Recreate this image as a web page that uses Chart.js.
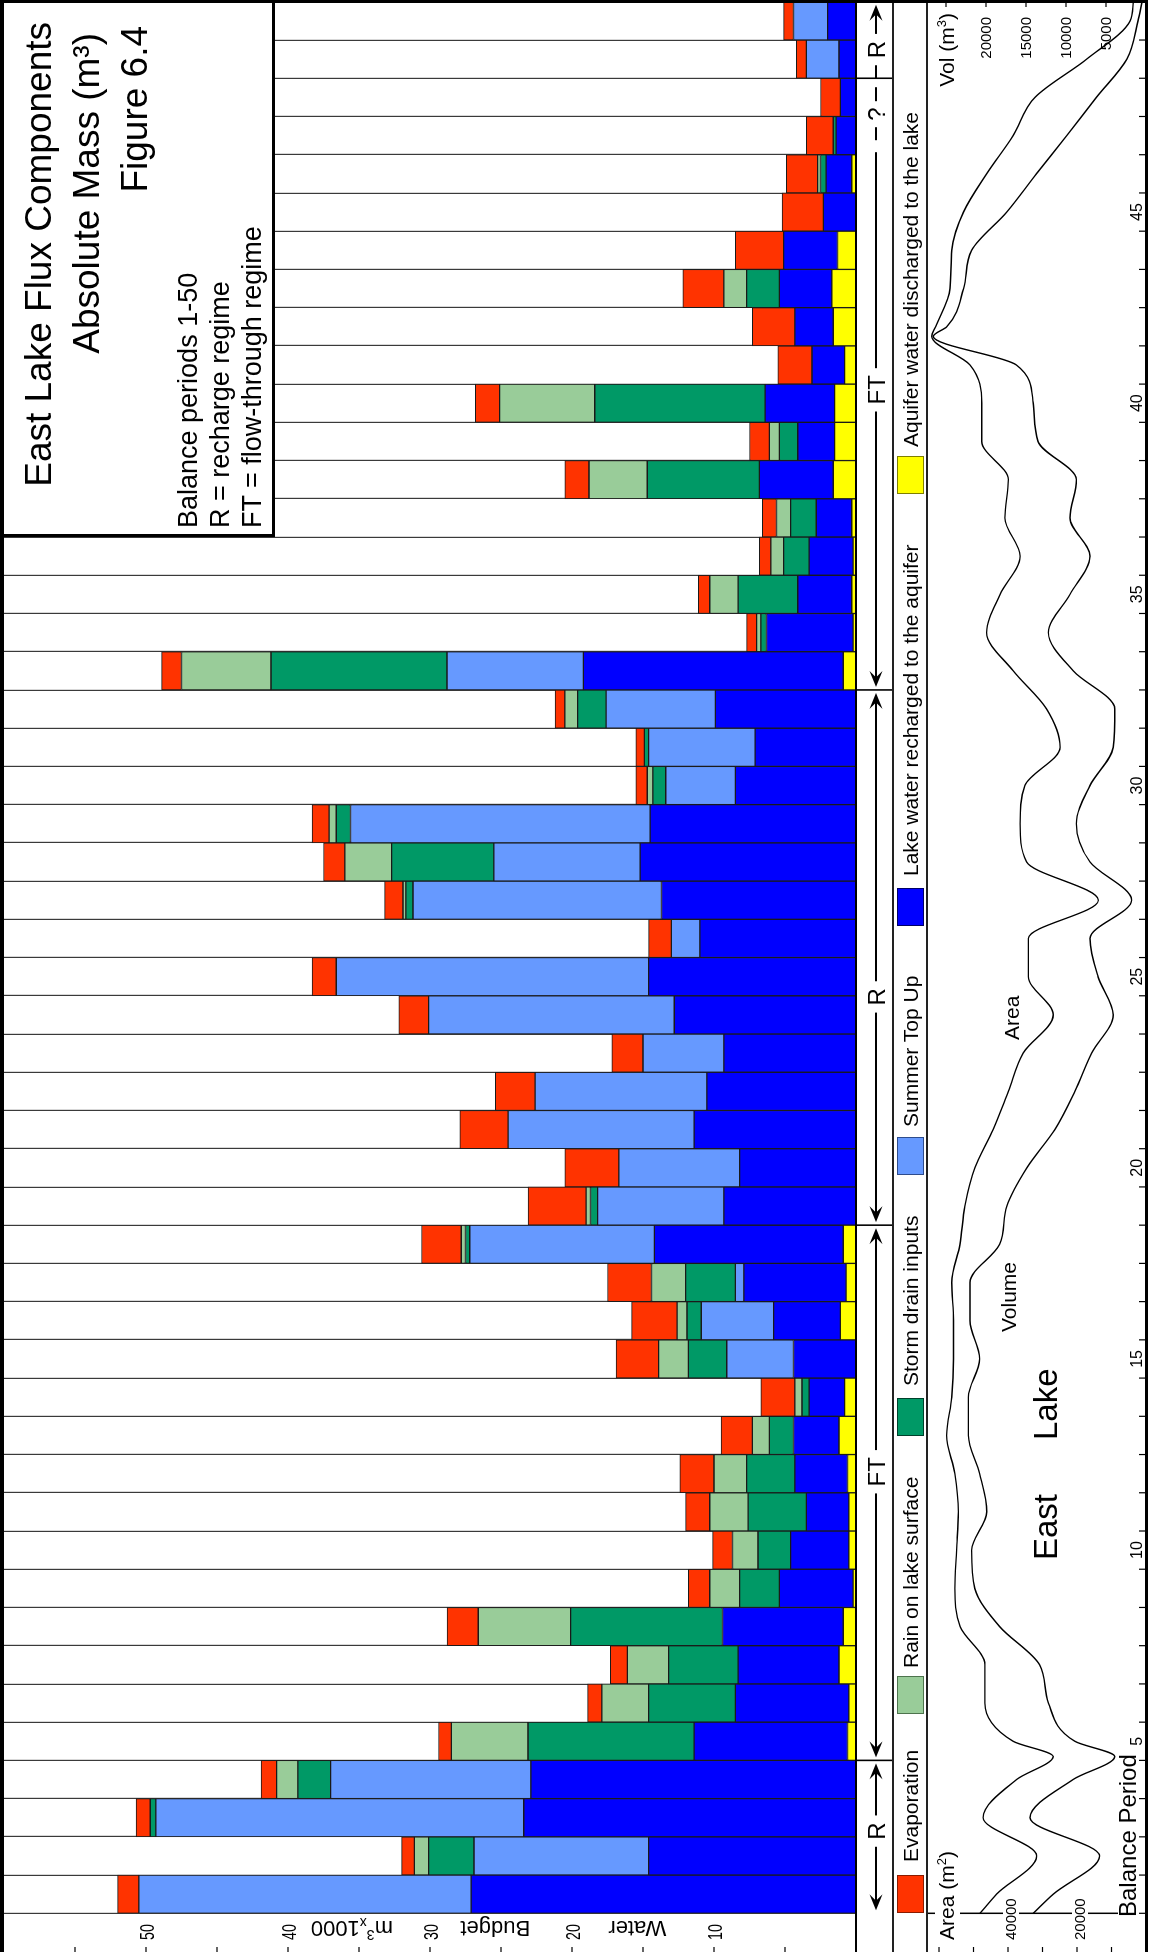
<!DOCTYPE html>
<html lang="en">
<head>
<meta charset="utf-8">
<title>East Lake Flux Components</title>
<script src="https://cdn.jsdelivr.net/npm/chart.js@4.4.1/dist/chart.umd.min.js"></script>
<style>
  html, body { margin: 0; padding: 0; background: #fff; overflow: hidden; }
  body { width: 1154px; height: 1952px; position: relative; }
  /* the figure is laid out landscape and turned to portrait */
  #sheet {
    position: absolute; left: 0; top: 0; width: 1952px; height: 1154px; background: #fff;
    transform-origin: 0 0; transform: translate(0, 1952px) rotate(-90deg);
    font-family: "Liberation Sans", Arial, Helvetica, sans-serif; color: #000;
  }
  #sheet canvas { position: absolute; left: 0; }
  #budget { top: 0; }
  #levels { top: 927px; }
  .rule { position: absolute; background: #000; }
  .key-box { position: absolute; top: 897px; width: 38px; height: 27px; box-sizing: border-box; border: 1.5px solid #000; }
  .key-text { position: absolute; top: 900.2px; font-size: 21px; line-height: 21px; white-space: nowrap; }
  #title-box { position: absolute; left: 1415px; top: 0; width: 537px; height: 275px; box-sizing: border-box;
               border-left: 3px solid #000; border-bottom: 3px solid #000; background: #fff; }
  .head { position: absolute; font-size: 37px; line-height: 37px; white-space: nowrap; }
  .note { position: absolute; left: 1424px; font-size: 27px; line-height: 27px; white-space: nowrap; }
</style>
</head>
<body>
<div id="sheet">
  <canvas id="budget" width="1952" height="893"></canvas>
  <canvas id="levels" width="1952" height="227"></canvas>

  <div class="rule" style="left:0;top:892.2px;width:1952px;height:1.6px;background:#222"></div>
  <div class="rule" style="left:0;top:926.2px;width:1952px;height:1.6px;background:#222"></div>

  <div id="key"></div>

  <div id="title-box"></div>
  <div class="head" style="right:22px;top:19.7px">East Lake Flux Components</div>
  <div class="head" style="right:33px;top:67.7px">Absolute Mass (m³)</div>
  <div class="head" style="right:26px;top:115.7px">Figure 6.4</div>
  <div class="note" style="top:175.1px">Balance periods 1-50</div>
  <div class="note" style="top:207.1px">R = recharge regime</div>
  <div class="note" style="top:239.1px">FT = flow-through regime</div>

  <div class="rule" style="left:0;top:0;width:1952px;height:4px"></div>
  <div class="rule" style="left:1949.2px;top:0;width:2.8px;height:1148px"></div>
</div>

<script>
// ---- balance periods and water budget components (m3 x 1000) ----
const periods = [1, 2, 3, 4, 5, 6, 7, 8, 9, 10, 11, 12, 13, 14, 15, 16, 17, 18, 19, 20,
                 21, 22, 23, 24, 25, 26, 27, 28, 29, 30, 31, 32, 33, 34, 35, 36, 37, 38, 39, 40,
                 41, 42, 43, 44, 45, 46, 47, 48, 49, 50];

const evaporation = [1.5, 0.9, 1.0, 1.1, 0.9, 1.0, 1.2, 2.2, 1.5, 1.4,
                     1.7, 2.4, 2.2, 2.4, 3.0, 3.2, 3.1, 2.8, 4.1, 3.8,
                     3.4, 2.8, 2.2, 2.1, 1.7, 1.6, 1.3, 1.5, 1.2, 0.8,
                     0.6, 0.7, 1.4, 0.7, 0.8, 0.8, 1.0, 1.7, 1.4, 1.7,
                     2.4, 3.0, 2.9, 3.4, 2.9, 2.2, 1.9, 1.4, 0.7, 0.7];

const rainOnLake = [0, 1.0, 0, 1.5, 5.4, 3.3, 2.9, 6.5, 2.1, 1.8,
                    2.7, 2.3, 1.2, 0.5, 2.1, 0.7, 2.4, 0.3, 0.3, 0,
                    0, 0, 0, 0, 0, 0, 0.2, 3.3, 0.5, 0.4,
                    0, 0.9, 6.3, 0.3, 2.0, 0.9, 1.0, 4.1, 0.7, 6.7,
                    0, 0, 1.6, 0, 0, 0.2, 0, 0, 0, 0];

const stormDrain = [0, 3.2, 0.4, 2.3, 11.7, 6.1, 4.9, 10.7, 2.8, 2.3,
                    4.1, 3.4, 1.7, 0.5, 2.7, 1.0, 3.5, 0.3, 0.5, 0,
                    0, 0, 0, 0, 0, 0, 0.5, 7.2, 1.0, 0.9,
                    0.3, 2.0, 12.4, 0.4, 4.2, 1.8, 1.8, 7.9, 1.3, 12.0,
                    0, 0, 2.3, 0, 0, 0.4, 0.2, 0, 0, 0];

const summerTopUp = [23.4, 12.3, 25.9, 14.1, 0, 0, 0, 0, 0, 0,
                     0, 0, 0, 0, 4.7, 5.1, 0.6, 13.0, 8.9, 8.5,
                     13.1, 12.1, 5.7, 17.3, 22.0, 2.0, 17.5, 10.3, 21.1, 4.9,
                     7.5, 7.7, 9.6, 0, 0, 0, 0, 0, 0, 0,
                     0, 0, 0, 0, 0, 0, 0, 0, 2.3, 2.4];

const lakeToAquifer = [27.1, 14.6, 23.4, 22.9, 10.8, 8.0, 7.1, 8.5, 5.2, 4.1,
                       3.0, 3.7, 3.2, 2.5, 4.4, 4.7, 7.2, 13.3, 9.3, 8.2,
                       11.4, 10.5, 9.3, 12.8, 14.6, 11.0, 13.7, 15.2, 14.5, 8.5,
                       7.1, 9.9, 18.3, 6.1, 3.8, 3.1, 2.5, 5.2, 2.6, 4.9,
                       2.3, 2.7, 3.7, 3.8, 2.3, 1.8, 1.4, 1.1, 1.2, 2.0];

const aquiferToLake = [0, 0, 0, 0, 0.6, 0.5, 1.2, 0.9, 0.2, 0.5,
                       0.5, 0.6, 1.2, 0.8, 0, 1.1, 0.7, 0.9, 0, 0,
                       0, 0, 0, 0, 0, 0, 0, 0, 0, 0,
                       0, 0, 0.9, 0.2, 0.3, 0.2, 0.3, 1.6, 1.5, 1.5,
                       0.8, 1.6, 1.7, 1.3, 0, 0.3, 0, 0, 0, 0];

// ---- lake area (m2) and volume (m3) through the balance periods ----
const curvePeriods = [0.5, 1, 2, 3, 4, 4.6, 5, 6, 7, 8, 9, 10, 11, 12, 13, 14, 15, 16, 17, 18, 19, 20,
                      21, 22, 23, 24, 25, 26, 27, 28, 29, 30, 31, 32, 33, 34, 35, 36, 37, 38, 39, 40,
                      41, 41.75, 42, 43, 44, 45, 46, 47, 48, 49, 50, 50.5];
const lakeArea = [48100, 43300, 31700, 47200, 37500, 26900, 38500, 46700, 46700, 53900, 55400, 54900,
                  54400, 55400, 57800, 56300, 55800, 55800, 56300, 53900, 52500, 49600,
                  44300, 39900, 35600, 26900, 34100, 34100, 13800, 34600, 36500, 35100,
                  24900, 28800, 38500, 46200, 42300, 36500, 40900, 39900, 47600, 47600,
                  51000, 62100, 61000, 56800, 56300, 52900, 46200, 38500, 32200, 17200, 4600, 3700];
const lakeVolume = [14100, 11600, 5800, 14500, 9100, 3900, 8900, 12200, 13300, 18300, 21400, 21800,
                    19900, 20800, 22200, 22200, 20800, 22000, 22000, 18300, 17400, 14900,
                    11400, 8900, 6800, 4100, 6000, 7000, 1800, 7000, 8700, 7000,
                    4100, 3900, 9100, 12200, 9500, 7000, 9500, 8700, 13500, 14100,
                    16200, 26600, 24900, 22800, 21800, 17400, 13700, 9900, 6200, 2400, 1000, 500];

// ---- axis ticks and labels ----
const budgetTickMarks = [5, 10, 15, 20, 25, 30, 35, 40, 45, 50, 55];
const budgetTickLabels = [10, 20, 30, 40, 50];
const budgetTitleWords = ['Water', 'Budget'];
const periodTickLabels = [5, 10, 15, 20, 25, 30, 35, 40, 45];
const areaTickMarks = [10000, 20000, 30000, 40000, 50000, 60000];
const areaTickLabels = [20000, 40000];
const volTickMarks = [5000, 10000, 15000, 20000, 25000];
const volTickLabels = [5000, 10000, 15000, 20000];

// ---- hydrological regimes along the balance periods ----
const regimeLabels = ['R', 'FT', 'R', 'FT', 'R'];
const regimeSpans = [[0.5, 4.5], [4.5, 18.5], [18.5, 32.5], [32.5, 48.5], [48.5, 50.5]];

// ---- legend text ----
const legendNames = ['Evaporation', 'Rain on lake surface', 'Storm drain inputs', 'Summer Top Up',
                     'Lake water recharged to the aquifer', 'Aquifer water discharged to the lake'];

// ---- styling / layout ----
const FAMILY = '"Liberation Sans", Arial, Helvetica, sans-serif';
const font = (px) => px + 'px ' + FAMILY;
const COLORS = {
  evap:   ['#FF3300', '#8a1c00'],
  rain:   ['#99CC99', '#4d734d'],
  storm:  ['#009966', '#00402b'],
  summer: ['#6699FF', '#2e4c8c'],
  recharge: ['#0000FF', '#000066'],
  discharge: ['#FFFF00', '#7f7f00']
};
const KEY_BOX_X = [39, 238, 516, 777, 1026, 1458];
const KEY_TEXT_X = [90, 284, 566, 825, 1076, 1505];
const REGIME_LABEL_AT = [2.65, 12.05, 24.47, 40.35, 49.25];
const REGIME_HEADS = [[true, true], [true, true], [true, true], [true, false], [false, true]];
const REGIME_UNSURE_AT = [null, null, null, 47.56, null];
const STRIP_MID = 876, STRIP_BOTTOM = 893;
const AREA_MAX = 63480, VOL_MAX = 27375;

Chart.defaults.font.family = FAMILY;

// legend
(function buildKey() {
  const key = document.getElementById('key');
  const order = ['evap', 'rain', 'storm', 'summer', 'recharge', 'discharge'];
  order.forEach((k, i) => {
    const box = document.createElement('div');
    box.className = 'key-box';
    box.style.left = KEY_BOX_X[i] + 'px';
    box.style.background = COLORS[k][0];
    box.style.borderColor = COLORS[k][1];
    key.appendChild(box);
    const txt = document.createElement('div');
    txt.className = 'key-text';
    txt.style.left = KEY_TEXT_X[i] + 'px';
    txt.textContent = legendNames[i];
    key.appendChild(txt);
  });
})();

function richWidth(ctx, pieces) {
  let w = 0;
  pieces.forEach(p => { ctx.font = font(p.size); w += ctx.measureText(p.t).width; });
  return w;
}
function drawRich(ctx, pieces, x, y, align) {
  const w = richWidth(ctx, pieces);
  let u = align === 'right' ? x - w : align === 'center' ? x - w / 2 : x;
  const left = u;
  ctx.textAlign = 'left';
  ctx.textBaseline = 'alphabetic';
  pieces.forEach(p => {
    ctx.font = font(p.size);
    ctx.fillText(p.t, u, y + (p.dy || 0));
    u += ctx.measureText(p.t).width;
  });
  return { left, width: w };
}
function arrowHead(ctx, tipX, y, dir) {
  const L = 16, W = 6.5;
  ctx.beginPath();
  ctx.moveTo(tipX, y);
  ctx.lineTo(tipX - dir * L, y - W);
  ctx.lineTo(tipX - dir * L * 0.6, y);
  ctx.lineTo(tipX - dir * L, y + W);
  ctx.closePath();
  ctx.fill();
}

// axis, regime strip and base line of the budget bars
const budgetFrame = {
  id: 'budgetFrame',
  afterDraw(chart) {
    const { ctx, chartArea: a, scales: { y } } = chart;
    const cw = (a.right - a.left) / periods.length;
    const pos = p => a.left + (p - 0.5) * cw;
    ctx.save();
    ctx.fillStyle = '#000';
    ctx.strokeStyle = '#000';

    // bar base
    ctx.fillRect(0, a.bottom - 1, chart.width, 2);

    // value axis ticks at the outer edge
    budgetTickMarks.forEach(v => ctx.fillRect(0, y.getPixelForValue(v) - 0.6, 5, 1.2));
    // condensed tick labels
    ctx.font = font(21);
    ctx.textAlign = 'left';
    ctx.textBaseline = 'alphabetic';
    budgetTickLabels.forEach(v => {
      ctx.save();
      ctx.translate(12, y.getPixelForValue(v) + 7.5);
      ctx.scale(0.68, 1);
      ctx.fillText(String(v), 0, 0);
      ctx.restore();
    });
    // axis title, read bottom to top
    const wordAt = [15.4, 25.4];
    budgetTitleWords.forEach((w, i) => {
      ctx.save();
      ctx.translate(31, y.getPixelForValue(wordAt[i]));
      ctx.rotate(-Math.PI / 2);
      ctx.font = font(22);
      ctx.textAlign = 'center';
      ctx.fillText(w, 0, 0);
      ctx.restore();
    });
    ctx.save();
    ctx.translate(31, y.getPixelForValue(35.5));
    ctx.rotate(-Math.PI / 2);
    const unit = [{ t: 'm', size: 22 }, { t: '3', size: 14, dy: -9 }, { t: 'x', size: 14, dy: 3 }, { t: '1000', size: 22 }];
    drawRich(ctx, unit, 0, 0, 'center');
    ctx.restore();

    // regime strip
    ctx.lineWidth = 1.6;
    regimeSpans.forEach(([p0]) => {
      if (p0 > 0.5) {
        const xs = pos(p0);
        ctx.beginPath(); ctx.moveTo(xs, a.bottom); ctx.lineTo(xs, STRIP_BOTTOM); ctx.stroke();
      }
    });
    ctx.lineWidth = 2;
    const seg = (xa, xb) => {
      if (xb - xa < 1) return;
      ctx.beginPath(); ctx.moveTo(xa, STRIP_MID); ctx.lineTo(xb, STRIP_MID); ctx.stroke();
    };
    ctx.font = font(24);
    ctx.textAlign = 'center';
    ctx.textBaseline = 'alphabetic';
    regimeSpans.forEach(([p0, p1], i) => {
      const x0 = pos(p0), x1 = pos(p1), lx = pos(REGIME_LABEL_AT[i]);
      const label = regimeLabels[i];
      const tw = ctx.measureText(label).width;
      const heads = REGIME_HEADS[i];
      ctx.fillText(label, lx, STRIP_MID + 8.6);
      seg(x0 + (heads[0] ? 10 : 0), lx - tw / 2 - 7);
      const tipR = x1 - 3;
      if (REGIME_UNSURE_AT[i]) {
        const qx = pos(REGIME_UNSURE_AT[i]);
        seg(lx + tw / 2 + 7, qx - 38);
        seg(qx - 26, qx - 13);
        ctx.fillText('?', qx, STRIP_MID + 8.6);
        seg(qx + 13, qx + 27);
      } else {
        seg(lx + tw / 2 + 7, heads[1] ? tipR - 8 : x1);
      }
      if (heads[0]) arrowHead(ctx, x0 + 3, STRIP_MID, -1);
      if (heads[1]) arrowHead(ctx, tipR, STRIP_MID, 1);
    });
    ctx.restore();
  }
};

const nz = arr => arr.map(v => (v === 0 ? null : v));
const barSet = (label, data, key) => ({
  label, data: nz(data),
  backgroundColor: COLORS[key][0],
  borderColor: '#1a1a1a', borderWidth: 1, borderSkipped: false,
  barPercentage: 1, categoryPercentage: 1
});

new Chart(document.getElementById('budget'), {
  type: 'bar',
  data: {
    labels: periods,
    datasets: [
      barSet(legendNames[5], aquiferToLake, 'discharge'),
      barSet(legendNames[4], lakeToAquifer, 'recharge'),
      barSet(legendNames[3], summerTopUp, 'summer'),
      barSet(legendNames[2], stormDrain, 'storm'),
      barSet(legendNames[1], rainOnLake, 'rain'),
      barSet(legendNames[0], evaporation, 'evap')
    ]
  },
  options: {
    responsive: false, animation: false, devicePixelRatio: 1, events: [],
    layout: { padding: { left: 38.7, right: 1.8, top: 4, bottom: 37 } },
    plugins: { legend: { display: false }, tooltip: { enabled: false } },
    scales: {
      x: {
        type: 'category', stacked: true, offset: true,
        grid: { offset: true, color: '#3a3a3a', lineWidth: 1.2, drawTicks: false },
        border: { display: false },
        ticks: { display: false },
        afterFit(scale) { scale.height = 0; }
      },
      y: { stacked: true, min: 0, max: 60, display: false }
    }
  },
  plugins: [budgetFrame]
});

// axes and annotations of the lake area / volume panel
const levelsFrame = {
  id: 'levelsFrame',
  afterDraw(chart) {
    const { ctx, chartArea: a, scales: { x, yArea, yVol } } = chart;
    ctx.save();
    ctx.fillStyle = '#000';

    // area axis line
    ctx.fillRect(a.left - 0.75, 0, 1.5, 191);
    // tick marks on both outer edges
    areaTickMarks.forEach(v => ctx.fillRect(0, yArea.getPixelForValue(v) - 0.6, 5, 1.2));
    volTickMarks.forEach(v => ctx.fillRect(chart.width - 7, yVol.getPixelForValue(v) - 0.6, 7, 1.2));

    const whiteBehind = (l, t, w, h) => {
      ctx.save(); ctx.fillStyle = '#fff'; ctx.fillRect(l, t, w, h); ctx.restore();
    };
    // area axis labels
    const areaTitle = [{ t: 'Area (m', size: 21 }, { t: '2', size: 13, dy: -8 }, { t: ')', size: 21 }];
    whiteBehind(10, 8, richWidth(ctx, areaTitle) + 5, 25);
    drawRich(ctx, areaTitle, 12, 27, 'left');
    ctx.font = font(15);
    areaTickLabels.forEach(v => {
      const py = yArea.getPixelForValue(v) + 3;
      const w = ctx.measureText(String(v)).width;
      whiteBehind(9, py - 8, w + 6, 16);
      ctx.textAlign = 'left';
      ctx.fillText(String(v), 12, py + 5.4);
    });
    // volume axis labels
    const volTitle = [{ t: 'Vol (m', size: 21 }, { t: '3', size: 13, dy: -8 }, { t: ')', size: 21 }];
    drawRich(ctx, volTitle, 1939, 27, 'right');
    ctx.font = font(15);
    ctx.textAlign = 'right';
    volTickLabels.forEach(v => ctx.fillText(String(v), 1935, yVol.getPixelForValue(v) + 5.4));

    // balance period axis
    for (let k = 0; k <= periods.length; k++) {
      const px = x.getPixelForValue(k + 0.5);
      ctx.fillRect(px - 0.6, a.bottom - 7, 1.2, 7);
    }
    ctx.font = font(16);
    ctx.textAlign = 'center';
    periodTickLabels.forEach(v => ctx.fillText(String(v), x.getPixelForValue(v), 214.5));
    ctx.font = font(24);
    ctx.textAlign = 'left';
    ctx.fillText('Balance Period', 35, 209);

    // curve names and lake name
    ctx.font = font(21);
    ctx.fillText('Area', 912, 92);
    ctx.fillText('Volume', 620, 89);
    ctx.font = font(33);
    ctx.fillText('East', 392, 130);
    ctx.fillText('Lake', 512, 130);

    // frame line along the bottom
    ctx.fillRect(0, a.bottom - 1, chart.width, 3);
    ctx.restore();
  }
};

new Chart(document.getElementById('levels'), {
  type: 'line',
  data: {
    datasets: [
      {
        label: 'Area', yAxisID: 'yArea',
        data: curvePeriods.map((p, i) => ({ x: p, y: lakeArea[i] })),
        borderColor: '#000', borderWidth: 1.4, pointRadius: 0, fill: false,
        cubicInterpolationMode: 'monotone'
      },
      {
        label: 'Volume', yAxisID: 'yVol',
        data: curvePeriods.map((p, i) => ({ x: p, y: lakeVolume[i] })),
        borderColor: '#000', borderWidth: 1.4, pointRadius: 0, fill: false,
        cubicInterpolationMode: 'monotone'
      }
    ]
  },
  options: {
    responsive: false, animation: false, devicePixelRatio: 1, events: [],
    layout: { padding: { left: 38.7, right: 1.8, top: 0, bottom: 8 } },
    plugins: { legend: { display: false }, tooltip: { enabled: false } },
    scales: {
      x: { type: 'linear', min: 0.5, max: 50.5, display: false },
      yArea: { type: 'linear', position: 'left', min: 0, max: AREA_MAX, display: false },
      yVol: { type: 'linear', position: 'right', min: 0, max: VOL_MAX, display: false }
    }
  },
  plugins: [levelsFrame]
});
</script>
</body>
</html>
